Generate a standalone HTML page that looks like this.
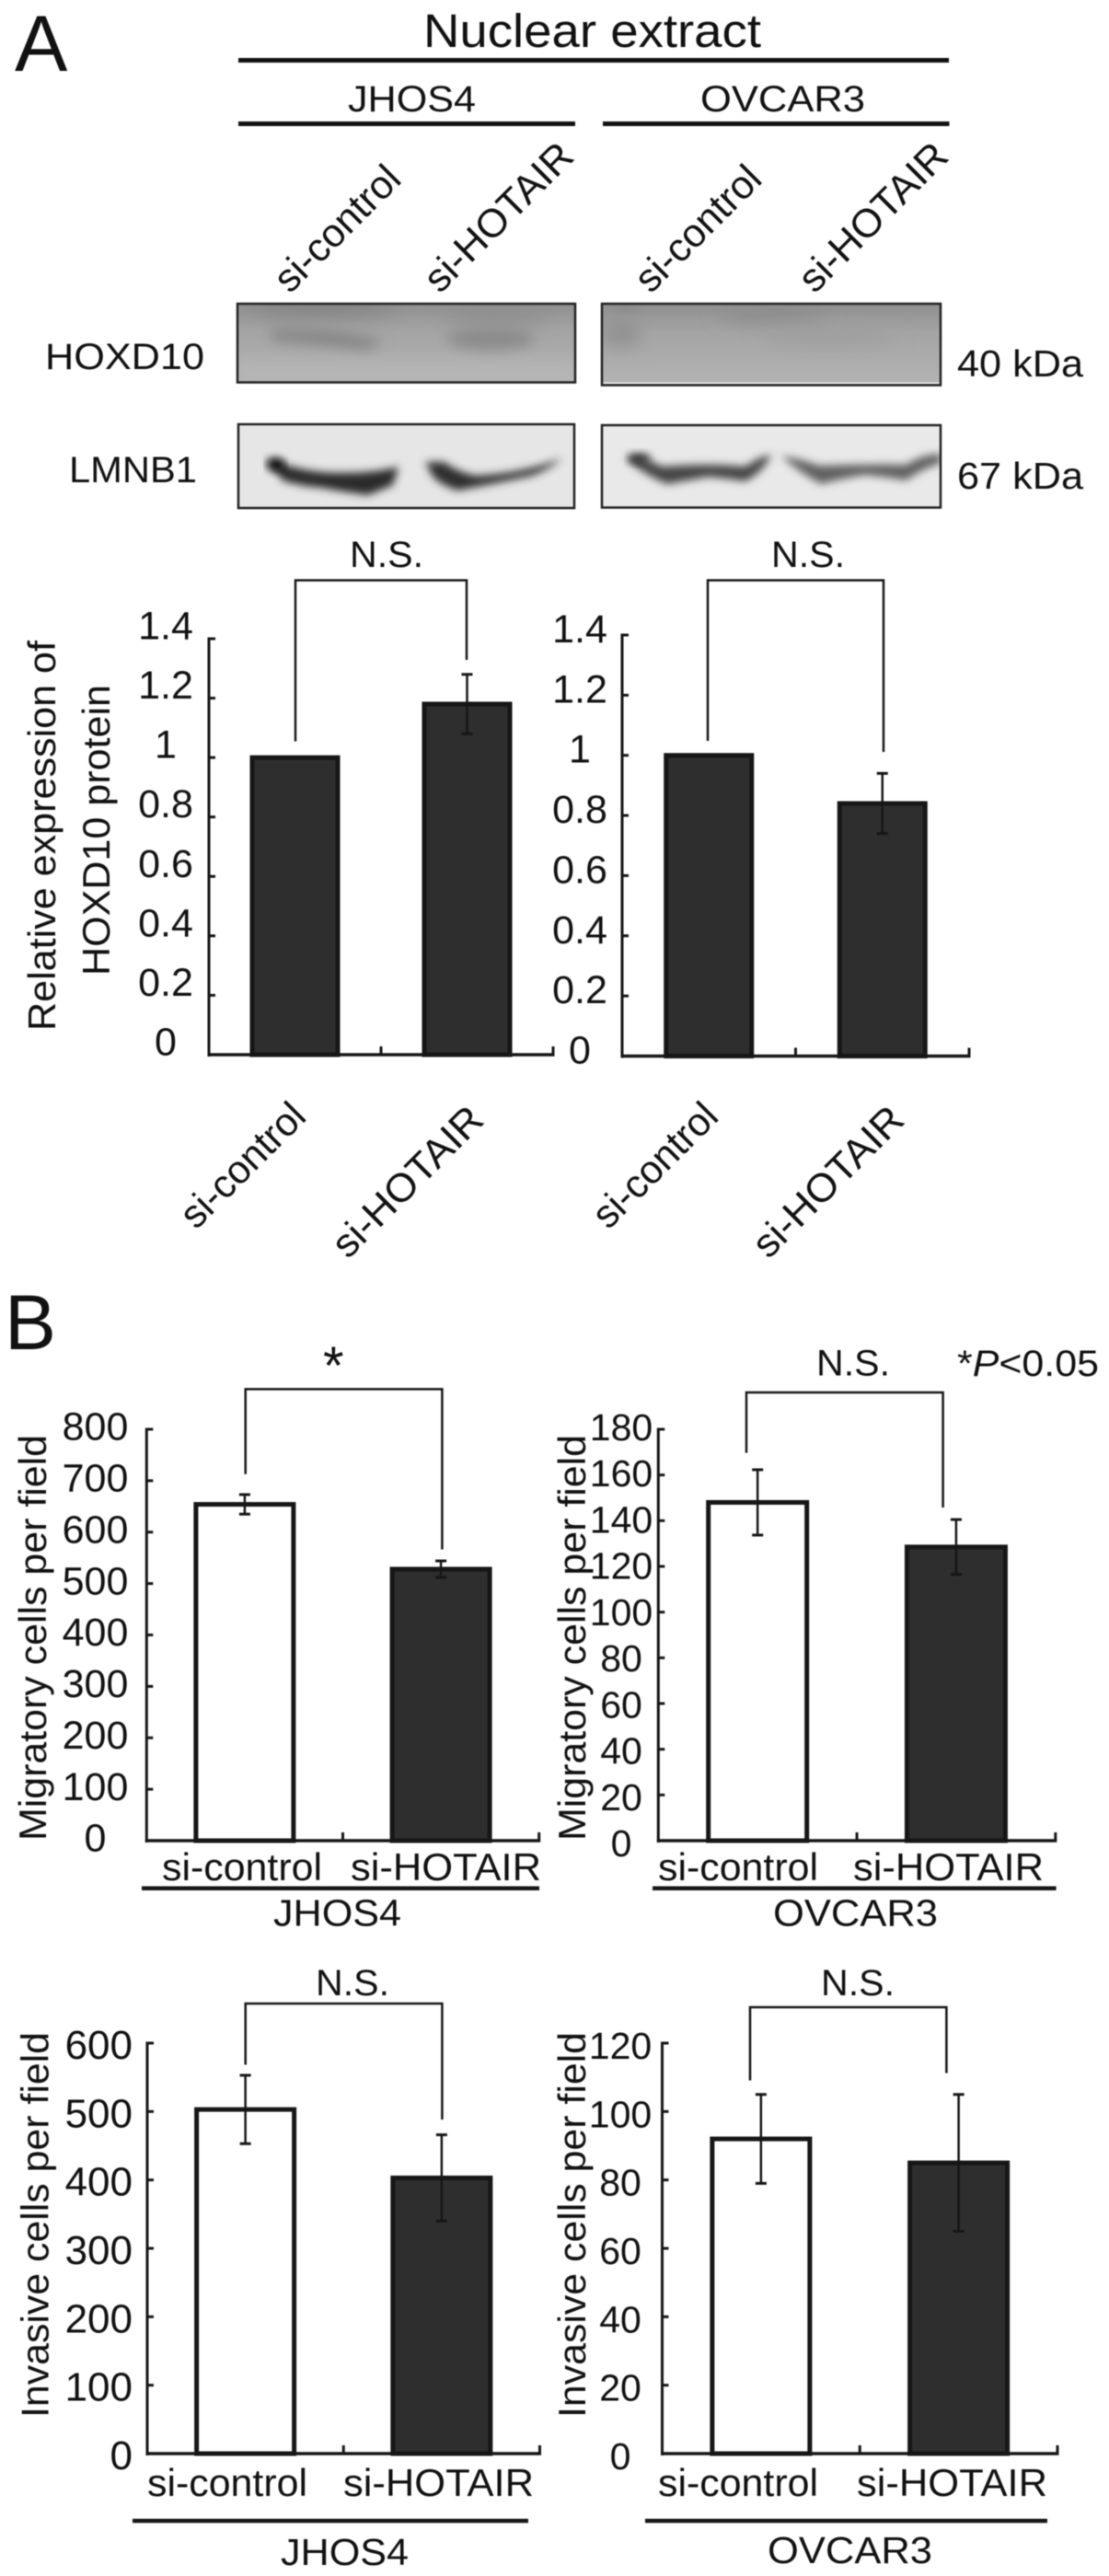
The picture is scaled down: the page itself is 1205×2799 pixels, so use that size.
<!DOCTYPE html>
<html lang="en">
<head>
<meta charset="utf-8">
<title>Nuclear extract HOXD10 and cell migration figure</title>
<style>
html,body{margin:0;padding:0;background:#fff;}
svg{display:block;filter:blur(0.6px);}
text{font-family:"Liberation Sans",sans-serif;fill:#111;}
</style>
</head>
<body>
<svg id="figure" xmlns="http://www.w3.org/2000/svg" width="1205" height="2799" viewBox="0 0 1205 2799">
<defs>
<filter id="b3" x="-20%" y="-60%" width="140%" height="220%"><feGaussianBlur stdDeviation="4.5"/></filter>
<filter id="b5" x="-20%" y="-80%" width="140%" height="260%"><feGaussianBlur stdDeviation="7"/></filter>
<filter id="b9" x="-30%" y="-100%" width="160%" height="300%"><feGaussianBlur stdDeviation="10"/></filter>
<linearGradient id="hoxBg" x1="0" y1="0" x2="0" y2="1"><stop offset="0" stop-color="#8f8f8f"/><stop offset="0.35" stop-color="#a4a4a4"/><stop offset="1" stop-color="#b4b4b4"/></linearGradient>
<clipPath id="c1"><rect x="257" y="329" width="369" height="87"/></clipPath>
<clipPath id="c2"><rect x="653" y="329" width="370" height="90"/></clipPath>
<clipPath id="c3"><rect x="258" y="460" width="367" height="93"/></clipPath>
<clipPath id="c4"><rect x="653" y="461" width="370" height="91"/></clipPath>
</defs>
<rect width="1205" height="2799" fill="#fff"/>

<g>
<text x="16" y="77" font-size="86">A</text>
<text x="460" y="51" font-size="51" textLength="367" lengthAdjust="spacingAndGlyphs">Nuclear extract</text>
<rect x="259" y="63" width="772" height="5" fill="#111"/>
<text x="378" y="121" font-size="40" textLength="139" lengthAdjust="spacingAndGlyphs">JHOS4</text>
<text x="761" y="121" font-size="40" textLength="179" lengthAdjust="spacingAndGlyphs">OVCAR3</text>
<rect x="259" y="132" width="366" height="5" fill="#111"/>
<rect x="655" y="132" width="376.5" height="5" fill="#111"/>
<text transform="translate(315,320) rotate(-45)" font-size="43" textLength="174" lengthAdjust="spacingAndGlyphs">si-control</text>
<text transform="translate(478,320) rotate(-45)" font-size="43" textLength="209" lengthAdjust="spacingAndGlyphs">si-HOTAIR</text>
<text transform="translate(707,320) rotate(-45)" font-size="43" textLength="174" lengthAdjust="spacingAndGlyphs">si-control</text>
<text transform="translate(885,320) rotate(-45)" font-size="43" textLength="209" lengthAdjust="spacingAndGlyphs">si-HOTAIR</text>
</g>

<g>
<g clip-path="url(#c1)">
<rect x="257" y="329" width="369" height="87" fill="url(#hoxBg)"/>
<rect x="257" y="390" width="369" height="26" fill="#b8b8b8" opacity=".6" filter="url(#b5)"/>
<path d="M293 358 Q340 356 380 362 L417 370 L400 380 Q340 374 297 370 Z" fill="#858585" filter="url(#b5)"/>
<ellipse cx="533" cy="368" rx="48" ry="12" fill="#8b8b8b" filter="url(#b5)"/>
<ellipse cx="350" cy="333" rx="80" ry="9" fill="#7d7d7d" opacity=".8" filter="url(#b9)"/>
<ellipse cx="540" cy="342" rx="55" ry="12" fill="#8a8a8a" opacity=".6" filter="url(#b9)"/>
</g>
<rect x="258" y="330" width="367" height="85.5" fill="none" stroke="#222" stroke-width="2.5"/>
<g clip-path="url(#c2)">
<rect x="653" y="329" width="370" height="90" fill="url(#hoxBg)"/>
<ellipse cx="675" cy="362" rx="22" ry="14" fill="#8e8e8e" filter="url(#b9)"/>
<ellipse cx="680" cy="331" rx="16" ry="4" fill="#808080" filter="url(#b5)"/>
<ellipse cx="840" cy="340" rx="60" ry="9" fill="#8b8b8b" filter="url(#b9)"/>
<ellipse cx="900" cy="365" rx="75" ry="8" fill="#9c9c9c" filter="url(#b9)"/>
<rect x="653" y="415.5" width="370" height="1.5" fill="#eee"/>
</g>
<rect x="654" y="330" width="368" height="88.5" fill="none" stroke="#222" stroke-width="2.5"/>
<g clip-path="url(#c3)">
<rect x="258" y="460" width="367" height="93" fill="#e6e6e6"/>
<path d="M290 498 Q320 510 350 513 Q400 516 433 507 L427 527 L400 538 Q370 534 350 530 Q325 528 307 522 Z" fill="#2a2a2a" filter="url(#b3)"/>
<ellipse cx="300" cy="505" rx="10" ry="7" fill="#111" filter="url(#b3)"/>
<path d="M462 502 L483 502 Q495 512 517 517 Q570 514 610 498 Q597 510 577 517 Q535 526 497 533 Q475 525 470 517 Z" fill="#2e2e2e" filter="url(#b3)"/>
</g>
<rect x="259" y="461" width="365" height="91" fill="none" stroke="#222" stroke-width="2.5"/>
<g clip-path="url(#c4)">
<rect x="653" y="461" width="370" height="91" fill="#e9e9e9"/>
<path d="M682 495 Q700 497 720 507 Q770 503 810 507 Q825 496 838 494 Q830 512 810 523 Q790 520 770 518 L725 526 Q700 516 682 500 Z" fill="#444" filter="url(#b3)"/>
<ellipse cx="695" cy="498" rx="12" ry="5" fill="#2a2a2a" filter="url(#b3)"/>
<path d="M849 495 Q875 500 890 506 Q950 504 985 505 Q1000 494 1023 493 L1023 503 Q1000 510 985 522 Q960 518 940 516 Q915 520 892 526 Q865 511 849 495 Z" fill="#606060" filter="url(#b3)"/>
</g>
<rect x="654" y="462" width="368" height="89.5" fill="none" stroke="#222" stroke-width="2.5"/>
<text x="49" y="401" font-size="40" textLength="173" lengthAdjust="spacingAndGlyphs">HOXD10</text>
<text x="75" y="524" font-size="40" textLength="139" lengthAdjust="spacingAndGlyphs">LMNB1</text>
<text x="1040" y="409" font-size="41" textLength="137" lengthAdjust="spacingAndGlyphs">40 kDa</text>
<text x="1040" y="531" font-size="41" textLength="137" lengthAdjust="spacingAndGlyphs">67 kDa</text>
</g>

<g>
<text transform="translate(60,1120) rotate(-90)" font-size="42" textLength="424" lengthAdjust="spacingAndGlyphs">Relative expression of</text>
<text transform="translate(119,1060) rotate(-90)" font-size="42" textLength="316" lengthAdjust="spacingAndGlyphs">HOXD10 protein</text>
</g>

<g>
<text x="5" y="1466" font-size="84">B</text>
<text x="1040" y="1495" font-size="40" textLength="154" lengthAdjust="spacingAndGlyphs">*<tspan font-style="italic">P</tspan>&lt;0.05</text>
</g>
<g id="charts"></g>
</svg>

<script>
const categories = ['si-control', 'si-HOTAIR'];

const relativeTicks = [0, 0.2, 0.4, 0.6, 0.8, 1, 1.2, 1.4];
const relativeJhosValues = [1.0, 1.18];
const relativeJhosErrors = [0, 0.1];
const relativeOvcarValues = [1.0, 0.84];
const relativeOvcarErrors = [0, 0.1];

const migrationJhosTicks = [0, 100, 200, 300, 400, 500, 600, 700, 800];
const migrationJhosValues = [654, 528];
const migrationJhosErrors = [19, 16];

const migrationOvcarTicks = [0, 20, 40, 60, 80, 100, 120, 140, 160, 180];
const migrationOvcarValues = [148, 128.5];
const migrationOvcarErrors = [14.3, 12];

const invasionJhosTicks = [0, 100, 200, 300, 400, 500, 600];
const invasionJhosValues = [503, 403];
const invasionJhosErrors = [50, 63];

const invasionOvcarTicks = [0, 20, 40, 60, 80, 100, 120];
const invasionOvcarValues = [92, 85];
const invasionOvcarErrors = [13, 20];

const NS = 'http://www.w3.org/2000/svg';
const root = document.getElementById('charts');

function add(parent, tag, attrs, name) {
  const el = document.createElementNS(NS, tag);
  for (const k in attrs) el.setAttribute(k, attrs[k]);
  
  
  parent.appendChild(el);
  return el;
}
function label(parent, str, attrs, name) {
  const el = add(parent, 'text', attrs, name);
  el.textContent = str;
  return el;
}
function line(parent, x1, y1, x2, y2, w, name) {
  return add(parent, 'line', {x1, y1, x2, y2, stroke: '#161616', 'stroke-width': w}, name);
}

function drawChart(c) {
  const g = add(root, 'g', {}, c.name);
  const max = c.ticks[c.ticks.length - 1];
  const yScale = v => c.y0 - (v / max) * (c.y0 - c.yTop);
  const step = (c.x1 - c.x0) / categories.length;
  const xCenter = i => c.x0 + (i + 0.5) * step;

  categories.forEach((cat, i) => {
    const top = yScale(c.values[i]);
    const cx = xCenter(i);
    const dark = c.fills[i] === 'dark';
    add(g, 'rect', {
      x: cx - c.barW / 2 + 2.5, y: top,
      width: c.barW - 5, height: c.y0 - top,
      fill: dark ? '#2e2e2e' : '#fff', stroke: '#161616',
      'stroke-width': 5
    }, 'bar-' + cat);
    if (c.errors[i] > 0) {
      const hi = yScale(c.values[i] + c.errors[i]);
      const lo = yScale(c.values[i] - c.errors[i]);
      line(g, cx, hi, cx, lo, 2.5, 'error-bar-' + cat);
      line(g, cx - 6, hi, cx + 6, hi, 3, 'error-cap-high-' + cat);
      line(g, cx - 6, lo, cx + 6, lo, 3, 'error-cap-low-' + cat);
    }
  });

  line(g, c.x0, c.yTop - 1.5, c.x0, c.y0 + 2, 3, 'y-axis');
  line(g, c.x0 - 1.5, c.y0, c.x1 + 1.5, c.y0, 3.5, 'x-axis');
  c.ticks.forEach(t => {
    const y = yScale(t);
    if (t > 0) line(g, c.x0, y, c.x0 + 7, y, 3, 'y-tick');
    const dyTop = c.labelDyTop === undefined ? c.labelDy : c.labelDyTop;
    const dy = c.labelDy + (dyTop - c.labelDy) * (t / max);
    label(g, String(t), {
      x: c.labelX, y: y + dy, 'font-size': c.tickFont, 'text-anchor': c.labelAnchor
    }, 'y-tick-label');
  });
  for (let i = 1; i <= categories.length; i++) {
    line(g, c.x0 + i * step, c.y0, c.x0 + i * step, c.y0 - 9, 3, 'x-tick');
  }

  const b = c.bracket;
  add(g, 'path', {
    d: 'M' + b.left + ' ' + b.leftEnd + ' V' + b.top + ' H' + b.right + ' V' + b.rightEnd,
    fill: 'none', stroke: '#161616', 'stroke-width': 2.5
  }, 'significance-bracket');
  if (b.text === '*') {
    label(g, '*', {x: b.tx, y: b.ty, 'font-size': 58}, 'significance-star');
  } else {
    label(g, b.text, {x: b.tx, y: b.ty, 'font-size': 40, textLength: 80, lengthAdjust: 'spacingAndGlyphs'}, 'significance-label');
  }

  if (c.yTitle) {
    label(g, c.yTitle.text, {
      transform: 'translate(' + c.yTitle.x + ',' + c.yTitle.y + ') rotate(-90)',
      'font-size': 42, textLength: c.yTitle.len, lengthAdjust: 'spacingAndGlyphs'
    }, 'y-axis-title');
  }

  categories.forEach((cat, i) => {
    const p = c.catLabels[i];
    if (c.rotated) {
      label(g, cat, {
        transform: 'translate(' + p.x + ',' + p.y + ') rotate(-45)',
        'font-size': 43, textLength: p.len, lengthAdjust: 'spacingAndGlyphs'
      }, 'x-category-label');
    } else {
      label(g, cat, {
        x: p.x, y: p.y, 'font-size': 42, textLength: p.len, lengthAdjust: 'spacingAndGlyphs'
      }, 'x-category-label');
    }
  });

  if (c.group) {
    add(g, 'rect', {x: c.group.x1, y: c.group.ry - 2.2, width: c.group.x2 - c.group.x1, height: 4.5, fill: '#161616'}, 'cell-line-rule');
    label(g, c.group.text, {
      x: c.group.tx, y: c.group.ty, 'font-size': 41, textLength: c.group.tlen, lengthAdjust: 'spacingAndGlyphs'
    }, 'cell-line-label');
  }
}

drawChart({
  name: 'relative-expression-jhos4-chart', values: relativeJhosValues, errors: relativeJhosErrors, ticks: relativeTicks,
  x0: 227, x1: 601, y0: 1146, yTop: 694, barW: 98, fills: ['dark', 'dark'],
  labelX: 180, labelAnchor: 'middle', labelDy: 0.5, tickFont: 43, rotated: true,
  bracket: {left: 321, right: 507, top: 630.5, leftEnd: 805.5, rightEnd: 717, text: 'N.S.', tx: 380, ty: 616},
  catLabels: [{x: 213, y: 1337, len: 172}, {x: 378, y: 1369, len: 212}]
});
drawChart({
  name: 'relative-expression-ovcar3-chart', values: relativeOvcarValues, errors: relativeOvcarErrors, ticks: relativeTicks,
  x0: 676, x1: 1053, y0: 1147.5, yTop: 690, barW: 98, fills: ['dark', 'dark'],
  labelX: 630, labelAnchor: 'middle', labelDy: 8, tickFont: 43, rotated: true,
  bracket: {left: 769, right: 960, top: 630.5, leftEnd: 805, rightEnd: 817, text: 'N.S.', tx: 838, ty: 616},
  catLabels: [{x: 661, y: 1337, len: 172}, {x: 835, y: 1369, len: 212}]
});
drawChart({
  name: 'migration-jhos4-chart', values: migrationJhosValues, errors: migrationJhosErrors, ticks: migrationJhosTicks,
  x0: 159.3, x1: 585.7, y0: 2000, yTop: 1553, barW: 111, fills: ['light', 'dark'],
  labelX: 103.5, labelAnchor: 'middle', labelDy: 11.7, tickFont: 43,
  bracket: {left: 266.7, right: 480.4, top: 1509.4, leftEnd: 1601.8, rightEnd: 1683.5, text: '*', tx: 351, ty: 1504},
  yTitle: {text: 'Migratory cells per field', x: 50, y: 2000, len: 441},
  catLabels: [{x: 176, y: 2043, len: 174}, {x: 381, y: 2043, len: 207}],
  group: {x1: 154, x2: 586, ry: 2051.7, text: 'JHOS4', tx: 297, ty: 2092.7, tlen: 139}
});
drawChart({
  name: 'migration-ovcar3-chart', values: migrationOvcarValues, errors: migrationOvcarErrors, ticks: migrationOvcarTicks,
  x0: 715.3, x1: 1146.8, y0: 2000, yTop: 1553, barW: 112, fills: ['light', 'dark'],
  labelX: 675, labelAnchor: 'middle', labelDy: 17, labelDyTop: 12, tickFont: 41,
  bracket: {left: 811, right: 1024.6, top: 1513, leftEnd: 1578.6, rightEnd: 1638, text: 'N.S.', tx: 887, ty: 1494.6},
  yTitle: {text: 'Migratory cells per field', x: 636, y: 2000, len: 441},
  catLabels: [{x: 715, y: 2043, len: 174}, {x: 927, y: 2043, len: 207}],
  group: {x1: 709, x2: 1147.6, ry: 2051.7, text: 'OVCAR3', tx: 840, ty: 2092.7, tlen: 179}
});
drawChart({
  name: 'invasion-jhos4-chart', values: invasionJhosValues, errors: invasionJhosErrors, ticks: invasionJhosTicks,
  x0: 160, x1: 586.5, y0: 2666, yTop: 2220, barW: 111, fills: ['light', 'dark'],
  labelX: 144, labelAnchor: 'end', labelDy: 17, tickFont: 44,
  bracket: {left: 266.7, right: 480.4, top: 2177, leftEnd: 2243.5, rightEnd: 2303, text: 'N.S.', tx: 343, ty: 2168},
  yTitle: {text: 'Invasive cells per field', x: 52.7, y: 2627, len: 419},
  catLabels: [{x: 160, y: 2712, len: 174}, {x: 373, y: 2712, len: 207}],
  group: {x1: 144, x2: 574, ry: 2739, text: 'JHOS4', tx: 305, ty: 2787, tlen: 139}
});
drawChart({
  name: 'invasion-ovcar3-chart', values: invasionOvcarValues, errors: invasionOvcarErrors, ticks: invasionOvcarTicks,
  x0: 719.5, x1: 1149, y0: 2666, yTop: 2220, barW: 111, fills: ['light', 'dark'],
  labelX: 674, labelAnchor: 'middle', labelDy: 17, tickFont: 41,
  bracket: {left: 815, right: 1028.4, top: 2181, leftEnd: 2260.5, rightEnd: 2252.5, text: 'N.S.', tx: 892, ty: 2168},
  yTitle: {text: 'Invasive cells per field', x: 636, y: 2627, len: 419},
  catLabels: [{x: 715, y: 2712, len: 174}, {x: 931, y: 2712, len: 207}],
  group: {x1: 701, x2: 1138, ry: 2739, text: 'OVCAR3', tx: 834, ty: 2785, tlen: 179}
});
</script>
</body>
</html>
